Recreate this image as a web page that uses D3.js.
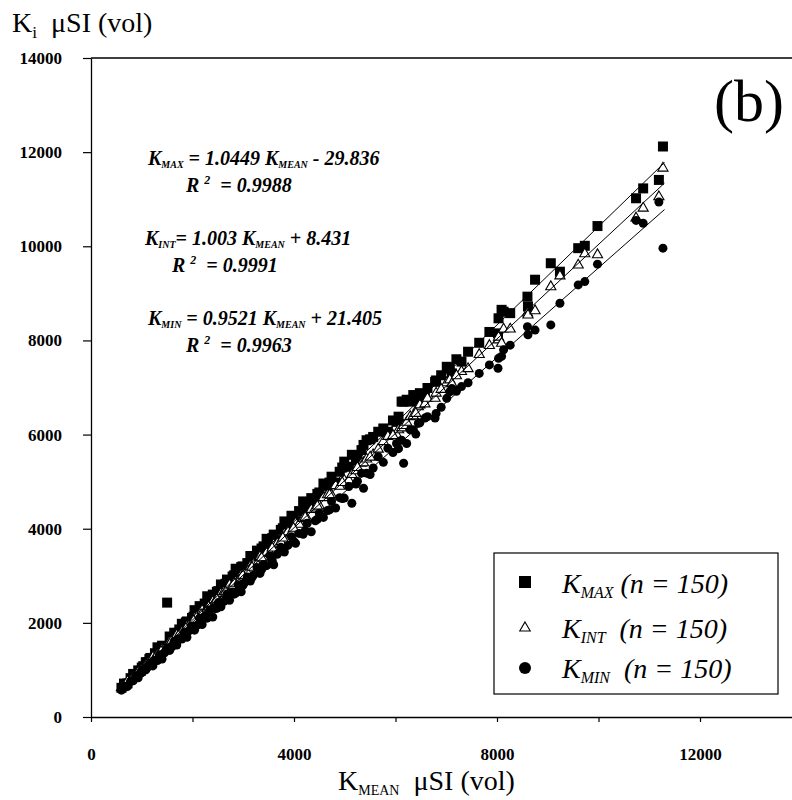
<!DOCTYPE html>
<html>
  <head>
    <title>K_i versus K_MEAN (b)</title>
    <style>
      body, html { margin: 0; padding: 0; background: #fff; }
      svg { display: block; }
      text { font-family: 'Liberation Serif', 'Times New Roman', serif; fill: #000; white-space: pre; }
    </style>
  </head>
  <body>
    <svg id="svg" width="792" height="800"></svg>

    <script src="https://cdn.jsdelivr.net/npm/d3@7"></script>
    <script>
      // values, one entry per sample (last row: extra samples in the dense band)
      const kMean = [600,650,720,780,830,880,930,980,1030,1080,
        1120,1170,1220,1260,1310,1350,1400,1450,1500,1550,
        1600,1640,1690,1740,1790,1840,1890,1940,1990,2040,
        2090,2140,2190,2240,2290,2340,2400,2450,2510,2560,
        2620,2680,2730,2790,2850,2900,2960,3020,3080,3140,
        3200,3270,3330,3400,3460,3530,3600,3670,3740,3810,
        3880,3950,4030,4100,4180,4260,4340,4420,4500,4580,
        4660,4740,4820,4900,4990,5080,5140,5220,5330,5370,
        5430,5560,5660,5760,5850,6020,6060,6120,6160,6220,
        6290,6350,6450,6480,6580,6630,6780,6800,7010,7070,
        7110,7300,7430,7650,8020,8030,8090,8130,8260,8600,
        8610,8750,9060,9240,9600,9730,9980,10740,10880,11190,11270,
        1000,1150,1380,1580,1720,1870,2020,2170,2320,2480,
        2650,2820,2990,3170,3360,3570,3780,3990,4220,4460,
        4700,4950,5250,5500,5950,6400,6900,7200,7850];
      const kMax = [620,710,715,825,915,900,990,980,1080,1165,
        1165,1255,1230,1355,1480,1400,1515,1455,2430,1710,
        1685,1790,1720,1860,1980,1915,2030,1970,2105,2270,
        2215,2355,2240,2410,2565,2445,2600,2490,2675,2815,
        2770,2920,2805,2985,3150,3030,3185,3085,3270,3420,
        3375,3535,3430,3625,3785,3695,3875,3755,3975,4155,
        4095,4275,4155,4375,4580,4455,4650,4540,4770,4960,
        4910,5105,4980,5210,5425,5315,5570,5450,5670,5780,
        5880,5950,6060,6130,6060,6270,6380,6700,6700,6740,
        6700,6840,6800,6880,6840,6990,7120,7150,7440,7410,
        7300,7550,7760,7950,8150,8470,8650,8610,8580,8930,
        8720,9290,9640,9460,9960,10010,10430,11020,11230,11410,12120,
        1050,1230,1470,1700,1790,2010,2130,2300,2460,2660,
        2830,3010,3200,3380,3580,3800,4010,4220,4480,4740,
        4980,5300,5560,5900,6300,6720,7260,7600,8180];
      const kInt = [620,645,755,780,845,865,955,990,1030,1110,
        1145,1165,1275,1260,1330,1320,1440,1460,1490,1600,
        1635,1625,1745,1740,1810,1810,1930,1955,1985,2105,
        2135,2115,2265,2235,2315,2295,2455,2465,2495,2625,
        2665,2655,2805,2785,2875,2855,3015,3035,3065,3205,
        3250,3250,3410,3400,3490,3475,3665,3690,3725,3890,
        3935,3920,4120,4095,4215,4210,4410,4440,4485,4660,
        4720,4715,4915,4900,5025,5030,5150,5230,5390,5400,
        5480,5570,5690,5850,5960,6000,6100,6140,6190,6260,
        6380,6400,6590,6630,6650,6770,6770,6880,7100,7160,
        7080,7340,7400,7700,8010,8070,7940,8240,8240,8580,
        8540,8630,9140,9370,9600,9840,9820,10600,10810,11050,11660,
        1000,1160,1390,1600,1720,1880,2040,2170,2340,2500,
        2660,2840,3010,3180,3380,3590,3800,4010,4240,4480,
        4720,4980,5300,5520,5980,6450,6960,7250,7890];
      const kMin = [570,655,650,755,770,870,835,935,1010,1000,
        1065,1150,1085,1205,1200,1325,1230,1365,1465,1415,
        1500,1610,1530,1665,1655,1795,1695,1835,1930,1845,
        1950,2100,1965,2135,2100,2280,2125,2305,2430,2340,
        2455,2615,2480,2655,2635,2810,2660,2845,2975,2890,
        3010,3175,3050,3240,3215,3420,3235,3455,3605,3505,
        3645,3830,3690,3900,3880,4115,3935,4170,4330,4240,
        4385,4580,4440,4660,4650,4895,4540,4950,5180,4860,
        5180,5290,5530,5410,5710,5810,5700,5880,5390,5810,
        6100,6100,6240,6250,6350,6380,6350,6450,6770,6910,
        6980,7020,7100,7300,7410,7620,7660,7800,7900,8290,
        8120,8220,8330,8790,9180,9250,9620,10550,10490,10940,9960,
        945,1080,1290,1480,1640,1740,1900,2030,2160,2310,
        2490,2610,2790,2960,3130,3330,3540,3740,3960,4200,
        4400,4640,5010,5150,5620,6010,6580,6920,7480];

      // fitted lines as printed on the chart
      const fitSlopes = [1.0449, 1.003, 0.9521];
      const fitIntercepts = [-29.836, 8.431, 21.405];
      const fitRange = [600, 11300];

      const xTicks = [0, 2000, 4000, 6000, 8000, 10000, 12000, 14000];
      const xLabelTicks = [0, 4000, 8000, 12000];
      const yTicks = [0, 2000, 4000, 6000, 8000, 10000, 12000, 14000];

      const seriesNames = ['MAX', 'INT', 'MIN'];
      const equations = ['1.0449', '1.003', '0.9521'];
      const eqOffsets = ['- 29.836', '+ 8.431', '+ 21.405'];
      const rSquared = ['0.9988', '0.9991', '0.9963'];
      const sampleCount = 150;

      const svg = d3.select('#svg');

      const xscale = d3.scaleLinear().domain([0, 14000]).range([91, 801.5]);
      const yscale = d3.scaleLinear().domain([0, 14000]).range([717, 58]);

      // frame top and right
      svg.append('line')
        .attr('x1', xscale(0)).attr('x2', xscale(14000))
        .attr('y1', yscale(14000)).attr('y2', yscale(14000))
        .attr('stroke', '#000').attr('stroke-width', 1.3);
      svg.append('line')
        .attr('x1', xscale(14000)).attr('x2', xscale(14000))
        .attr('y1', yscale(0)).attr('y2', yscale(14000))
        .attr('stroke', '#000').attr('stroke-width', 1.3);

      const bottomAxis = d3.axisBottom(xscale)
        .tickValues(xTicks)
        .tickSize(5)
        .tickSizeOuter(0)
        .tickPadding(26)
        .tickFormat(d => xLabelTicks.includes(d) ? d : '');
      const leftAxis = d3.axisLeft(yscale)
        .tickValues(yTicks)
        .tickSize(8)
        .tickSizeOuter(0)
        .tickPadding(21)
        .tickFormat(d => d);

      const gx = svg.append('g')
        .attr('transform', `translate(0, ${yscale(0)})`)
        .call(bottomAxis);
      const gy = svg.append('g')
        .attr('transform', `translate(${xscale(0)}, 0)`)
        .call(leftAxis);

      [gx, gy].forEach(g => {
        g.attr('font-family', null).attr('font-size', null);
        g.select('.domain').attr('stroke', '#000').attr('stroke-width', 1.3);
        g.selectAll('.tick line').attr('stroke', '#000').attr('stroke-width', 1.2);
        g.selectAll('.tick text')
          .style('font-family', "'Liberation Serif', serif")
          .style('font-weight', 'bold')
          .style('font-size', '17px');
      });

      // text with sub/superscripts
      function richText(x, y, size, parts, opts) {
        const t = svg.append('text')
          .attr('x', x).attr('y', y)
          .attr('font-size', size);
        if (opts.italic) t.attr('font-style', 'italic');
        if (opts.bold) t.attr('font-weight', 'bold');
        let shift = 0;
        parts.forEach(p => {
          const ts = t.append('tspan').text(p.t);
          let target = 0;
          if (p.sub) {
            target = size * (opts.subShift || 0.22);
            ts.attr('font-size', size * (opts.subScale || 0.55));
          } else if (p.sup) {
            target = -size * 0.42;
            ts.attr('font-size', size * 0.6);
          }
          ts.attr('dy', target - shift);
          shift = target;
        });
        return t;
      }

      // axis titles
      richText(12, 32, 28, [{ t: 'K' }, { t: 'i', sub: true }, { t: '  μSI (vol)' }],
        { subScale: 0.62, subShift: 0.2 });
      richText(338, 790, 28, [{ t: 'K' }, { t: 'MEAN', sub: true }, { t: '  μSI (vol)' }],
        { subScale: 0.5, subShift: 0.18 });

      svg.append('text')
        .attr('x', 714).attr('y', 121)
        .attr('font-size', 60)
        .text('(b)');

      // scatter
      const rows = kMean.map((x, i) => ({ x, max: kMax[i], int: kInt[i], min: kMin[i] }));

      svg.append('g').selectAll('path')
        .data(rows)
        .join('path')
        .attr('d', d3.symbol(d3.symbolSquare).size(100))
        .attr('transform', d => `translate(${xscale(d.x)}, ${yscale(d.max)})`)
        .attr('fill', '#000');

      svg.append('g').selectAll('path')
        .data(rows)
        .join('path')
        .attr('d', d3.symbol(d3.symbolTriangle).size(45))
        .attr('transform', d => `translate(${xscale(d.x)}, ${yscale(d.int)})`)
        .attr('fill', '#fff')
        .attr('stroke', '#000')
        .attr('stroke-width', 1.1);

      svg.append('g').selectAll('circle')
        .data(rows)
        .join('circle')
        .attr('cx', d => xscale(d.x))
        .attr('cy', d => yscale(d.min))
        .attr('r', 4.5)
        .attr('fill', '#000');

      // regression lines
      svg.append('g').selectAll('line')
        .data(fitSlopes)
        .join('line')
        .attr('x1', xscale(fitRange[0]))
        .attr('x2', xscale(fitRange[1]))
        .attr('y1', (m, i) => yscale(m * fitRange[0] + fitIntercepts[i]))
        .attr('y2', (m, i) => yscale(m * fitRange[1] + fitIntercepts[i]))
        .attr('stroke', '#000')
        .attr('stroke-width', 1);

      // equations
      const eqPos = [[148, 165, 186, 192], [145, 245, 172, 272], [148, 325, 186, 352]];
      seriesNames.forEach((name, i) => {
        const [ex, ey, rx, ry] = eqPos[i];
        richText(ex, ey, 20, [
          { t: 'K' }, { t: name, sub: true },
          { t: (i === 1 ? '= ' : ' = ') + equations[i] + ' K' }, { t: 'MEAN', sub: true },
          { t: ' ' + eqOffsets[i] }
        ], { italic: true, bold: true, subScale: 0.5, subShift: 0.15 });
        richText(rx, ry, 20, [{ t: 'R ' }, { t: '2', sup: true }, { t: '  = ' + rSquared[i] }],
          { italic: true, bold: true });
      });

      // legend
      svg.append('rect')
        .attr('x', 494).attr('y', 553)
        .attr('width', 284).attr('height', 141)
        .attr('fill', '#fff')
        .attr('stroke', '#000')
        .attr('stroke-width', 1.2);

      const legendY = [582, 628, 668];
      const legendText = [593, 638, 678];
      svg.append('rect')
        .attr('x', 519).attr('y', legendY[0] - 6)
        .attr('width', 12).attr('height', 12)
        .attr('fill', '#000');
      svg.append('path')
        .attr('d', d3.symbol(d3.symbolTriangle).size(48))
        .attr('transform', `translate(525, ${legendY[1]})`)
        .attr('fill', '#fff').attr('stroke', '#000').attr('stroke-width', 1.1);
      svg.append('circle')
        .attr('cx', 525).attr('cy', legendY[2]).attr('r', 6)
        .attr('fill', '#000');

      seriesNames.forEach((name, i) => {
        richText(562, legendText[i], 28, [
          { t: 'K' }, { t: name, sub: true },
          { t: (i === 0 ? ' ' : '  ') + '(n = ' + sampleCount + ')' }
        ], { italic: true, subScale: 0.57, subShift: 0.17 });
      });
    </script>
  </body>
</html>
